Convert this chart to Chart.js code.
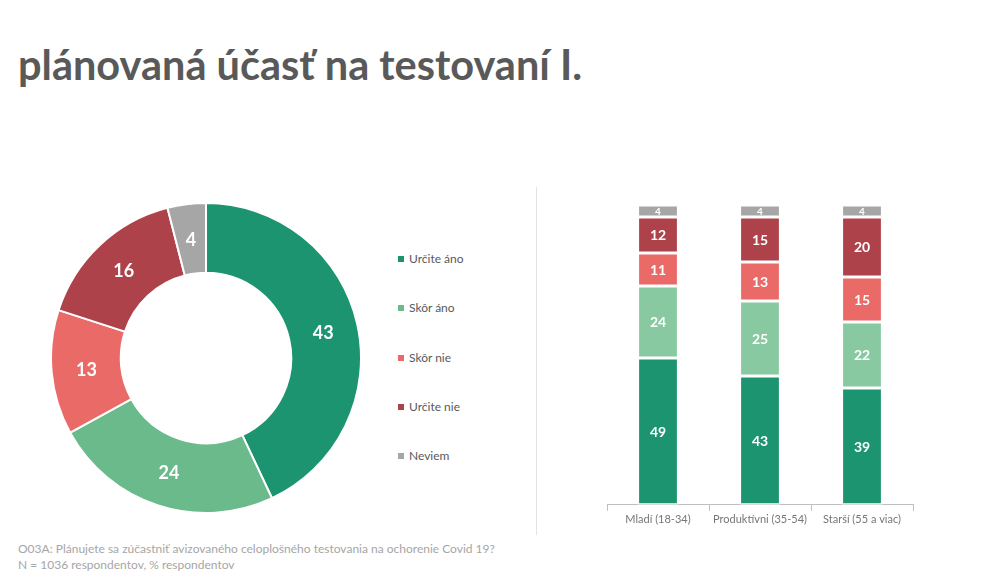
<!DOCTYPE html>
<html>
<head>
<meta charset="utf-8">
<script src="https://cdn.jsdelivr.net/npm/chart.js@4/dist/chart.umd.min.js"></script>
<style>
body{margin:0;width:996px;height:573px;background:#fff;font-family:Lato,"Open Sans",sans-serif;position:relative;overflow:hidden}
#title{position:absolute;left:18px;top:39px;font-size:41.5px;font-weight:bold;color:#595959;white-space:nowrap}
#donutBox{position:absolute;left:50px;top:202px;width:312px;height:312px}
#barBox{position:absolute;left:598px;top:196px;width:324px;height:332px}
#legend{position:absolute;left:398px;top:251px}
.item{height:49.3px;font-size:12px;color:#595959;display:flex;align-items:flex-start}
.item span.sq{display:inline-block;width:6px;height:6px;margin:5px 5px 0 0}
#sep{position:absolute;left:536px;top:187px;width:1px;height:348px;background:#e3e3e3}
#note{position:absolute;left:18px;top:541px;font-size:12px;color:#a6a6a6;line-height:16px}
</style>
</head>
<body>
<div id="title">plánovaná účasť na testovaní I.</div>
<div id="donutBox"><canvas id="donut"></canvas></div>
<div id="legend"></div>
<div id="sep"></div>
<div id="barBox"><canvas id="bars"></canvas></div>
<div id="note">O03A: Plánujete sa zúčastniť avizovaného celoplošného testovania na ochorenie Covid 19?<br>N = 1036 respondentov, % respondentov</div>
<script>
// data
let answers = ['Určite áno', 'Skôr áno', 'Skôr nie', 'Určite nie', 'Neviem'];
let totalValues = [43, 24, 13, 16, 4];
let groups = ['Mladí (18-34)', 'Produktívni (35-54)', 'Starší (55 a viac)'];
let urciteAno = [49, 43, 39];
let skorAno = [24, 25, 22];
let skorNie = [11, 13, 15];
let urciteNie = [12, 15, 20];
let neviem = [4, 4, 4];

let donutColors = ['#1c9470', '#6aba8b', '#ea6a68', '#ad424a', '#a6a6a6'];
let barColors = ['#1c9470', '#88c9a1', '#ea6a68', '#ad424a', '#a6a6a6'];

/* simple value labels, drawn at element centres */
const valueLabels = {
  id: 'valueLabels',
  afterDatasetsDraw(chart, args, opts) {
    let ctx = chart.ctx;
    ctx.save();
    ctx.fillStyle = '#fff';
    ctx.textAlign = 'center';
    ctx.textBaseline = 'middle';
    chart.data.datasets.forEach((ds, i) => {
      chart.getDatasetMeta(i).data.forEach((el, j) => {
        let p = el.getCenterPoint();
        let small = opts.smallLast && i == chart.data.datasets.length - 1;
        ctx.font = 'bold ' + (small ? 10 : opts.size) + 'px Lato, sans-serif';
        ctx.fillText(ds.data[j], p.x, p.y + 1);
      });
    });
    ctx.restore();
  }
};

/* LEGEND */
let leg = document.getElementById('legend');
answers.forEach((a, i) => {
  let d = document.createElement('div');
  d.className = 'item';
  d.innerHTML = '<span class="sq" style="background:' + donutColors[i] + '"></span>' + a;
  leg.appendChild(d);
});

/* DONUT */
new Chart(document.getElementById('donut'), {
  type: 'doughnut',
  data: {
    labels: answers,
    datasets: [{
      data: totalValues,
      backgroundColor: donutColors,
      borderColor: '#fff',
      borderWidth: 2
    }]
  },
  options: {
    responsive: true,
    maintainAspectRatio: false,
    animation: false,
    cutout: '55%',
    plugins: {
      legend: {display: false},
      tooltip: {enabled: false},
      valueLabels: {size: 18}
    }
  },
  plugins: [valueLabels]
});

/* STACKED BARS */
let series = [urciteAno, skorAno, skorNie, urciteNie, neviem];
new Chart(document.getElementById('bars'), {
  type: 'bar',
  data: {
    labels: groups,
    datasets: series.map((s, i) => ({
      label: answers[i],
      data: s,
      backgroundColor: barColors[i],
      borderColor: '#fff',
      borderWidth: 1.5,
      borderSkipped: false,
      barPercentage: 0.4,
      categoryPercentage: 1
    }))
  },
  options: {
    responsive: true,
    maintainAspectRatio: false,
    animation: false,
    layout: {padding: {left: 9, right: 9, top: 9, bottom: 0}},
    scales: {
      x: {
        stacked: true,
        grid: {display: true, drawOnChartArea: false, tickLength: 6, color: '#bfbfbf'},
        border: {color: '#bfbfbf'},
        ticks: {color: '#767676', font: {size: 11, family: 'Lato'}, padding: 2}
      },
      y: {
        stacked: true,
        display: false,
        min: 0,
        max: 100
      }
    },
    plugins: {
      legend: {display: false},
      tooltip: {enabled: false},
      valueLabels: {size: 14, smallLast: true}
    }
  },
  plugins: [valueLabels]
});
</script>
</body>
</html>
